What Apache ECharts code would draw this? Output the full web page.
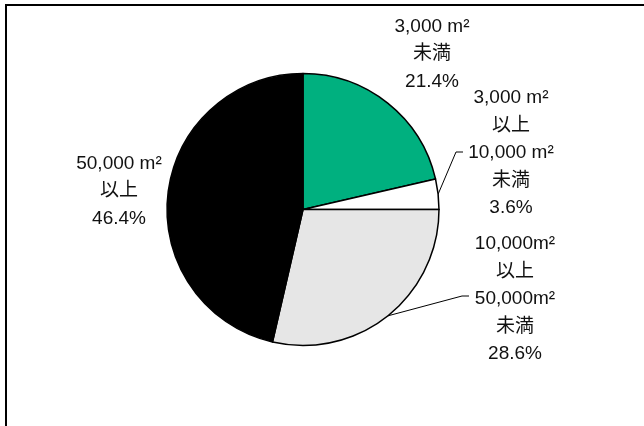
<!DOCTYPE html>
<html>
<head>
<meta charset="utf-8">
<script src="https://cdn.jsdelivr.net/npm/echarts@6/dist/echarts.min.js"></script>
<style>
html,body{margin:0;padding:0;background:#fff;}
#chart{width:644px;height:426px;}
</style>
</head>
<body>
<div id="chart"></div>
<script>
// Data
const categories = [
  "3,000 m²\n未満",
  "3,000 m²\n以上\n10,000 m²\n未満",
  "10,000m²\n以上\n50,000m²\n未満",
  "50,000 m²\n以上"
];
const values = [21.4, 3.6, 28.6, 46.4];
const colors = ["#00B07F", "#FFFFFF", "#E6E6E6", "#000000"];
const showLeader = [false, true, true, false];

// Label placement (center x, middle y of the text block)
const labelPos = [
  {x: 432, y: 54},
  {x: 511, y: 153},
  {x: 515, y: 299},
  {x: 119, y: 191}
];

const chart = echarts.init(document.getElementById('chart'), null, {renderer: 'canvas'});

const data = categories.map((c, i) => ({
  name: c,
  value: values[i],
  itemStyle: {color: colors[i]},
  labelLine: {show: showLeader[i]}
}));

chart.setOption({
  animation: false,
  backgroundColor: '#fff',
  graphic: [
    {type: 'line', shape: {x1: 5, y1: 5, x2: 644, y2: 5}, style: {stroke: '#000', lineWidth: 2}},
    {type: 'line', shape: {x1: 6, y1: 4, x2: 6, y2: 426}, style: {stroke: '#000', lineWidth: 2}}
  ],
  series: [{
    type: 'pie',
    center: [303, 209.5],
    radius: [0, 136],
    startAngle: 90,
    clockwise: true,
    avoidLabelOverlap: false,
    data: data,
    itemStyle: {borderColor: '#000', borderWidth: 1.5},
    label: {
      show: true,
      position: 'outside',
      formatter: p => p.name + '\n' + p.value.toFixed(1) + '%',
      fontFamily: 'Liberation Sans, Arial, "Noto Sans CJK JP", sans-serif',
      fontSize: 19,
      lineHeight: 27.5,
      color: '#111',
      align: 'center'
    },
    labelLine: {
      show: true,
      length: 10,
      length2: 8,
      lineStyle: {color: '#000', width: 1}
    },
    labelLayout: function (params) {
      const i = params.dataIndex;
      const pos = labelPos[i];
      const res = {x: pos.x, y: pos.y, align: 'center', verticalAlign: 'middle'};
      if (showLeader[i] && params.labelLinePoints) {
        const s = params.labelLinePoints[0];
        if (i === 1) {
          res.labelLinePoints = [[s[0], s[1]], [456, 152], [463, 152]];
        } else if (i === 2) {
          res.labelLinePoints = [[s[0], s[1]], [462, 296], [469, 296]];
        }
      }
      return res;
    }
  }]
});
</script>
</body>
</html>
